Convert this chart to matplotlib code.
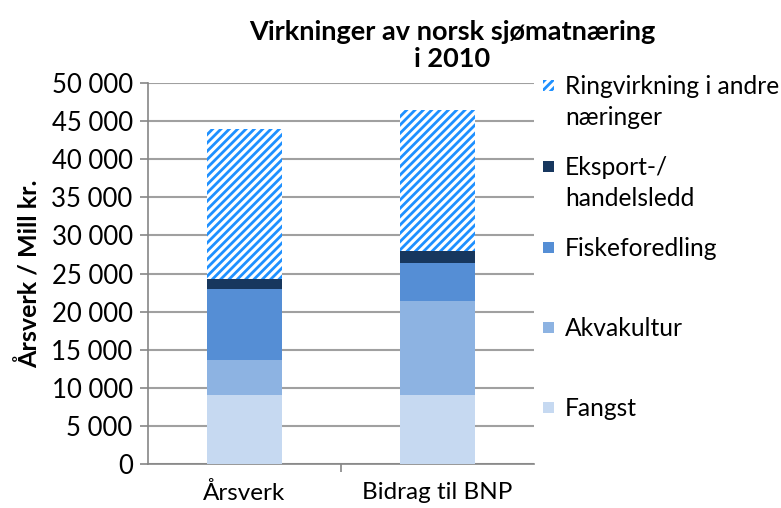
import numpy as np
import matplotlib.pyplot as plt
from matplotlib.patches import Rectangle
from matplotlib.ticker import FuncFormatter

plt.rcParams['font.family'] = ['Lato', 'DejaVu Sans']
plt.rcParams['hatch.linewidth'] = 2.0

# --- data ---
categories = ["Årsverk", "Bidrag til BNP"]
fangst = [9000, 9000]
akvakultur = [4650, 12400]
fiskeforedling = [9350, 5000]
eksport = [1300, 1600]
ringvirkning = [19700, 18450]

series_names = ["Fangst", "Akvakultur", "Fiskeforedling",
                "Eksport-/\nhandelsledd", "Ringvirkning i andre\nnæringer"]
series_values = [fangst, akvakultur, fiskeforedling, eksport, ringvirkning]
series_colors = ["#C6D9F1", "#8DB3E2", "#558ED5", "#17375E", "white"]
hatch_color = "#1E90FF"

fig = plt.figure(figsize=(7.81, 5.08), dpi=100)
ax = fig.add_axes([0.1895, 0.0866, 0.4943, 0.75])

x = np.arange(len(categories))
bottom = np.zeros(len(categories))
for name, vals, col in zip(series_names, series_values, series_colors):
    if name.startswith("Ringvirkning"):
        ax.bar(x, vals, 0.39, bottom=bottom, color=col, edgecolor=hatch_color,
               hatch="////", linewidth=0, zorder=3)
    else:
        ax.bar(x, vals, 0.39, bottom=bottom, color=col, linewidth=0, zorder=3)
    bottom += np.array(vals)

ax.set_xlim(-0.5, 1.5)
ax.set_ylim(0, 50000)
ax.set_yticks(np.arange(0, 50001, 5000))
ax.yaxis.set_major_formatter(FuncFormatter(lambda v, p: f"{int(v):,}".replace(",", " ")))
ax.set_xticks([0.5])
ax.set_xticklabels([""])
ax.set_xticks(x, minor=True)
ax.set_xticklabels(categories, minor=True)
ax.tick_params(axis="x", which="minor", length=0, labelsize=17.5, pad=13)
ax.tick_params(axis="x", which="major", length=6, width=1.2, color="#868686")
ax.tick_params(axis="y", length=6, width=1.2, color="#868686", labelsize=18.5, pad=5)

ax.grid(axis="y", color="#A0A0A0", linewidth=1.5, zorder=0)
for s in ["top", "right"]:
    ax.spines[s].set_visible(False)
ax.spines["left"].set_color("#868686")
ax.spines["bottom"].set_color("#868686")
ax.spines["left"].set_linewidth(1.2)
ax.spines["bottom"].set_linewidth(1.2)

ax.set_ylabel("Årsverk / Mill kr.", fontsize=18, fontweight="bold")
ax.yaxis.set_label_coords(-0.275, 0.5)

fig.text(0.579, 0.96, "Virkninger av norsk sjømatnæring\ni 2010", ha="center", va="top",
         fontsize=19.5, fontweight="bold", linespacing=1.15)

# --- legend (Excel style, marker aligned with first text line) ---
leg_y = [1 - 85 / 508, 1 - 166 / 508, 1 - 247 / 508, 1 - 327 / 508, 1 - 407 / 508]
for i, (name, col) in enumerate(zip(series_names[::-1], series_colors[::-1])):
    yy = leg_y[i]
    sq = Rectangle((543 / 781, yy - 5.5 / 508), 11 / 781, 11 / 508, transform=fig.transFigure,
                   facecolor=col, edgecolor=hatch_color if col == "white" else "none",
                   hatch="////" if col == "white" else None, linewidth=0)
    fig.add_artist(sq)
    fig.text(565 / 781, yy + 10 / 508, name, ha="left", va="top", fontsize=17.7, linespacing=1.4)

plt.savefig("out.png", dpi=100)
